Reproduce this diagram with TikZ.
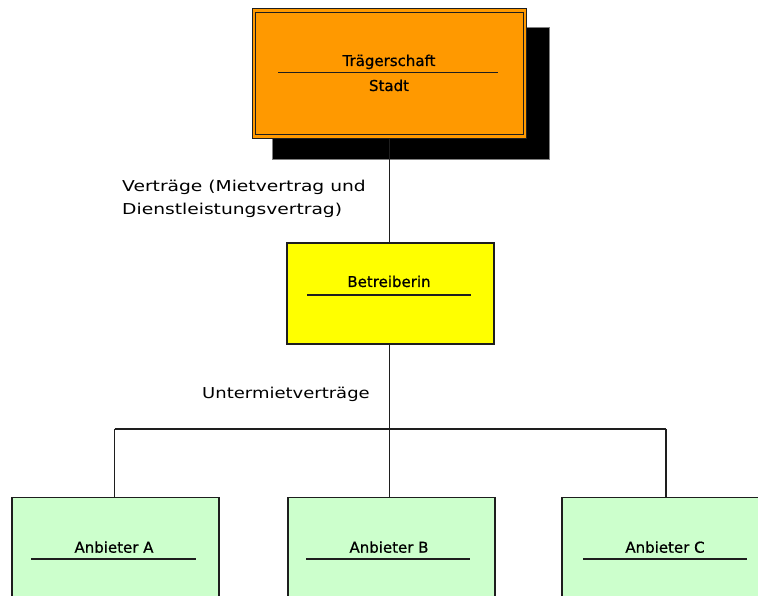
\documentclass[tikz,border=0pt]{standalone}
\usepackage{fontspec}
\setmainfont{DejaVu Sans}
\newfontfamily\boxfont[FakeBold=0.7]{DejaVu Sans}
\usepackage{graphicx}
\definecolor{orangefill}{HTML}{FF9900}
\definecolor{yellowfill}{HTML}{FFFF00}
\definecolor{greenfill}{HTML}{CCFFCC}
\definecolor{edge}{HTML}{1E1E1E}
\begin{document}
\begin{tikzpicture}[x=1pt,y=-1pt,
  txt/.style={font=\boxfont\fontsize{15}{18}\selectfont, inner sep=0pt, anchor=base},
  lbl/.style={font=\fontsize{15}{18}\selectfont, inner sep=0pt, anchor=base west},
  box/.style={draw=edge, line width=1.8pt, inner sep=0pt},
  conn/.style={draw=edge, line width=1.8pt},
  uline/.style={draw=edge, line width=1.6pt}]
\useasboundingbox (0,0) rectangle (758,596);
\clip (0,0) rectangle (758,596);
\fill[white] (0,0) rectangle (758,596);
% shadow
\draw[fill=black, draw=gray, line width=1pt] (272,28) rectangle (549,160);
% orange box (double border)
\node[draw=edge, double=orangefill, double distance=2.2pt, line width=1.3pt,
  fill=orangefill, minimum width=271pt, minimum height=126pt, inner sep=0pt]
  (traeger) at (389.5,73.5) {};
\node[txt] (t1) at (389,66) {Trägerschaft};
\node[txt] (t2) at (389,91) {Stadt};
\draw[uline] (278,72.7) -- (498,72.7);
% yellow box
\node[box, fill=yellowfill, minimum width=207pt, minimum height=101pt]
  (betr) at (390.5,293.5) {};
\node[txt] (b1) at (389,287) {Betreiberin};
\draw[uline] (307,295) -- (471,295);
% green boxes
\node[box, fill=greenfill, minimum width=207pt, minimum height=140pt, anchor=north west]
  (anbA) at (11,496.5) {};
\node[box, fill=greenfill, minimum width=207pt, minimum height=140pt, anchor=north west]
  (anbB) at (287,496.5) {};
\node[box, fill=greenfill, minimum width=207pt, minimum height=140pt, anchor=north west]
  (anbC) at (561,496.5) {};
\node[txt] (a1) at (114,552.7) {Anbieter A};
\node[txt] (a2) at (389,552.7) {Anbieter B};
\node[txt] (a3) at (665,552.7) {Anbieter C};
\draw[uline] (31,558.7) -- (196,558.7);
\draw[uline] (306,558.7) -- (470,558.7);
\draw[uline] (583,558.7) -- (747,558.7);
% connectors
\coordinate (jmid) at (389.5,429);
\coordinate (jA) at (114.5,429);
\coordinate (jC) at (666,429);
\draw[conn] (traeger.south -| jmid) ++(0,2) -- (betr.north -| jmid);
\draw[conn] (betr.south -| jmid) -- (jmid);
\draw[conn] (jA) -- (jC);
\draw[conn] (jA) -- (jA |- anbA.north);
\draw[conn] (jmid) -- (jmid |- anbB.north);
\draw[conn] (jC) -- (jC |- anbC.north);
% labels
\node[lbl] (l1) at (122,191.7) {\scalebox{1.245}[1]{Verträge (Mietvertrag und}};
\node[lbl] (l2) at (122,215) {\scalebox{1.245}[1]{Dienstleistungsvertrag)}};
\node[lbl] (l3) at (202,398) {\scalebox{1.2}[1]{Untermietverträge}};
\end{tikzpicture}
\end{document}
